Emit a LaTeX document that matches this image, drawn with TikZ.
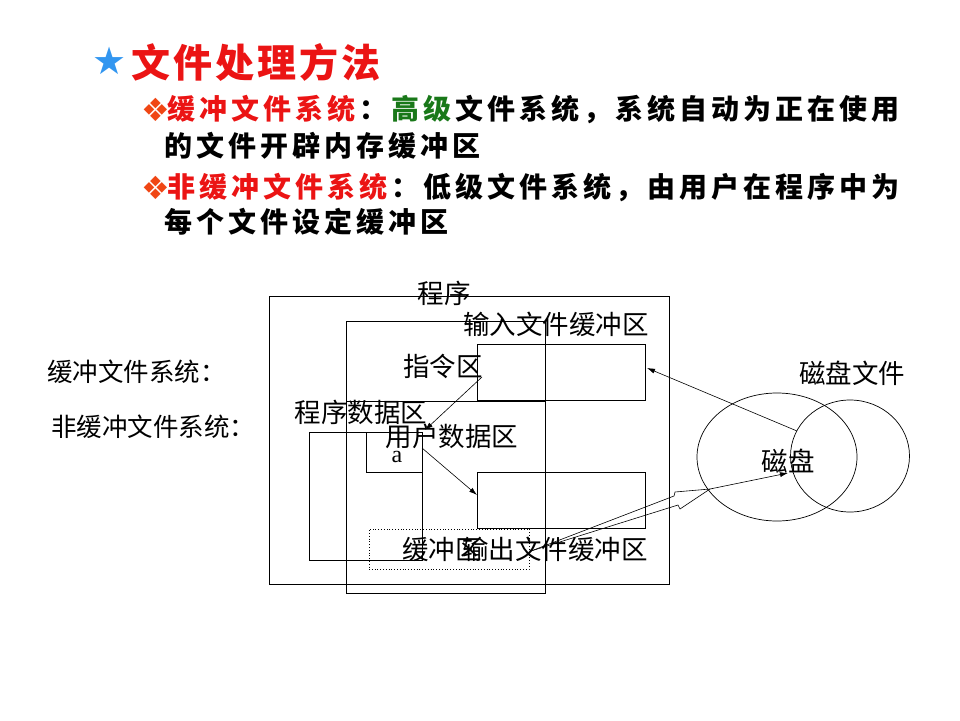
\documentclass[tikz,border=0pt]{standalone}
\usepackage{fontspec}
\setmainfont{Noto Sans CJK SC}
\newfontfamily\dejavu{DejaVu Sans}
\newfontfamily\lserif{Liberation Serif}
\usetikzlibrary{arrows.meta,shapes.geometric}
\definecolor{tred}{RGB}{235,20,20}
\definecolor{tgreen}{RGB}{25,120,25}
\definecolor{tblue}{RGB}{50,150,240}
\definecolor{dorange}{RGB}{240,70,20}
\ExplSyntaxOn
\NewDocumentCommand\spc{m m}{\tl_map_inline:nn {#2} {##1\kern#1\relax}}
\ExplSyntaxOff
\begin{document}
\begin{tikzpicture}[x=1pt,y=-1pt,
  box/.style={draw,line width=0.8pt,inner sep=0,outer sep=0},
  lbl/.style={inner sep=0,font=\fontsize{26.5}{30}\selectfont},
  side/.style={inner sep=0,anchor=west,font=\fontsize{25.5}{30}\selectfont},
  head/.style={inner sep=0,anchor=west,font=\bfseries\fontsize{28}{32}\selectfont},
  bullet/.style={inner sep=0,anchor=west,text=dorange,font=\dejavu\fontsize{32}{36}\selectfont},
  con/.style={line width=0.6pt,-{Latex[length=8pt,width=5pt]}},
  thinline/.style={line width=0.6pt}]
\useasboundingbox (0,0) rectangle (960,720);

% header
\node[inner sep=0,text=tblue,font=\dejavu\fontsize{38}{40}\selectfont] (star) at (110,61) {★};
\node[inner sep=0,anchor=west,text=tred,font=\bfseries\fontsize{39}{42}\selectfont] (title) at (131,62) {\spc{3pt}{文件处理方法}};
\node[bullet] (b1) at (141,110) {❖};
\node[head] (l1) at (167,110) {\color{tred}\spc{4pt}{缓冲文件系统}\color{black}\spc{4pt}{：}\color{tgreen}\spc{4pt}{高级}\color{black}\spc{4pt}{文件系统，系统自动为正在使用}};
\node[head] (l2) at (164,146) {\spc{4pt}{的文件开辟内存缓冲区}};
\node[bullet] (b2) at (141,188) {❖};
\node[head] (l3) at (167,188) {\color{tred}\spc{4pt}{非缓冲文件系统}\color{black}\spc{4pt}{：低级文件系统，由用户在程序中为}};
\node[head] (l4) at (164,222) {\spc{4pt}{每个文件设定缓冲区}};

% side labels
\node[side] (s1) at (47,372) {缓冲文件系统：};
\node[side] (s2) at (51,427) {非缓冲文件系统：};

% boxes
\node[box,minimum width=400,minimum height=288] (prog) at (469,440) {};
\node[box,minimum width=199,minimum height=272] (mem) at (445.5,457) {};
\draw[line width=0.8pt] (mem.west |- 0,401) -- (mem.east |- 0,401);
\node[box,minimum width=168,minimum height=56] (inbuf) at (561,372) {};
\node[box,minimum width=168,minimum height=56] (outbuf) at (561,500) {};
\node[box,minimum width=113,minimum height=128] (pdata) at (365.5,496) {};
\node[box,minimum width=56,minimum height=40] (udata) at (394,452) {};
\node[box,dotted,minimum width=160,minimum height=40] (buf) at (449,549) {};

% disks
\node[draw,ellipse,line width=0.7pt,minimum width=160,minimum height=128,inner sep=0] (disk1) at (777,457) {};
\node[draw,ellipse,line width=0.7pt,minimum width=119,minimum height=112,inner sep=0] (disk2) at (850,456) {};

% labels
\node[lbl] (tprog) at (444,293) {程序};
\node[lbl] (tin) at (556,324) {输入文件缓冲区};
\node[lbl] (tins) at (443,366) {指令区};
\node[lbl] (tpd) at (361,412) {程序数据区};
\node[lbl] (tud) at (452,436) {用户数据区};
\node[inner sep=0,font=\lserif\fontsize{24}{28}\selectfont] (ta) at (397,457) {a};
\node[lbl] (tbuf) at (442,549) {缓冲区};
\node[lbl] (tout) at (555,549) {输出文件缓冲区};
\node[lbl] (tdisk) at (788,461) {磁盘};
\node[lbl] (tdf) at (852,373) {磁盘文件};

% connectors
\coordinate (dsrc) at (797,431);
\draw[con] (dsrc) -- ([shift={(2,-4)}]inbuf.east);
\draw[con] ([shift={(5,5)}]inbuf.west) -- ([shift={(3,-2)}]udata.north east);
\draw[con] ([shift={(0,-4)}]udata.east) -- ([shift={(0,-5)}]outbuf.west);
\coordinate (hs) at (531,551);
\coordinate (hu1) at (674,496);
\coordinate (hu2) at (675,492);
\coordinate (hl1) at (678,505);
\coordinate (hl2) at (680,509);
\coordinate (hk) at (710,489);
\coordinate (dtip) at (788,473);
\draw[thinline] (hs) -- (hu1) -- (hu2) -- (hk);
\draw[thinline] (hs) -- (hl1) -- (hl2) -- (hk);
\draw[con] (hk) -- (dtip);
\end{tikzpicture}
\end{document}
